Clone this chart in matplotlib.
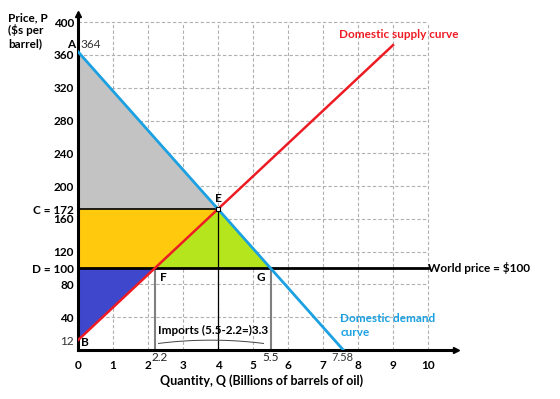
import matplotlib
matplotlib.use("Agg")
import matplotlib.pyplot as plt
import numpy as np
from matplotlib.patches import Polygon

plt.rcParams['font.family'] = ['Lato', 'DejaVu Sans']

# Data
demand_q = [0, 7.58]
demand_p = [364, 0]
supply_q = [0, 4, 9.0]
supply_p = [12, 172, 372]
world_price = 100
q_eq, p_eq = 4, 172
q_supply_world, q_demand_world = 2.2, 5.5
x_ticks = list(range(0, 11))
y_ticks = [40, 80, 120, 160, 200, 240, 280, 320, 360, 400]

fig = plt.figure(figsize=(5.6, 3.99), dpi=100)
ax = fig.add_axes([78/560, 49/399, 378/560, 336/399])
ax.set_xlim(0, 10.8)
ax.set_ylim(0, 410)

# grid
for x in x_ticks[1:]:
    ax.plot([x, x], [0, 400], ls=(0, (3, 2)), color='#b0b0b0', lw=0.8, zorder=0)
for y in y_ticks:
    ax.plot([0, 10], [y, y], ls=(0, (3, 2)), color='#b0b0b0', lw=0.8, zorder=0)

# shaded areas
gray = Polygon([(0, demand_p[0]), (0, p_eq), (q_eq, p_eq)], color='#C3C3C3', lw=0, zorder=1)
yellow = Polygon([(0, p_eq), (q_eq, p_eq), (q_supply_world, world_price), (0, world_price)], color='#FFC90E', lw=0, zorder=1)
green = Polygon([(q_supply_world, world_price), (q_eq, p_eq), (q_demand_world, world_price)], color='#B5E61D', lw=0, zorder=1)
blue = Polygon([(0, world_price), (q_supply_world, world_price), (0, supply_p[0])], color='#3F48CC', lw=0, zorder=1)
for p in (gray, yellow, green, blue):
    ax.add_patch(p)

# verticals
ax.plot([q_supply_world]*2, [0, world_price], color='#808080', lw=1.5, zorder=2)
ax.plot([q_demand_world]*2, [0, world_price], color='#808080', lw=1.5, zorder=2)
ax.plot([q_eq]*2, [0, p_eq], color='black', lw=0.9, zorder=2)
ax.plot([0, q_eq], [p_eq, p_eq], color='black', lw=1.2, zorder=2)

# world price line
ax.plot([0, 10], [world_price, world_price], color='black', lw=2, zorder=3)

# curves
ax.plot(demand_q, demand_p, color='#1BA1E2', lw=2, zorder=4)
ax.plot(supply_q, supply_p, color='#ED1C24', lw=1.8, zorder=4)
ax.plot([q_eq], [p_eq], marker='s', ms=3, mfc='white', mec='black', mew=0.8, zorder=5)

# axes spines
for s in ['top', 'right']:
    ax.spines[s].set_visible(False)
ax.spines['left'].set_linewidth(2.2)
ax.spines['bottom'].set_linewidth(2.2)
ax.plot(1, 0, '>k', transform=ax.get_yaxis_transform(), clip_on=False, ms=4)
ax.plot(0, 1, '^k', transform=ax.get_xaxis_transform(), clip_on=False, ms=4)

ax.tick_params(axis='x', length=0, pad=7)
ax.tick_params(axis='y', length=0, pad=3)
ax.set_xticks(x_ticks)
ax.set_xticklabels([str(v) for v in x_ticks], fontweight='bold', fontsize=8.5)
yt = [12, 40, 80, world_price, 120, 160, p_eq, 200, 240, 280, 320, 360, 400]
ylab = ['12', '40', '80', 'D = 100', '120', '160', 'C = 172', '200', '240', '280', '320', '360', '400']
ax.set_yticks(yt)
ax.set_yticklabels(ylab, fontsize=8.5, fontweight='bold')
for t in ax.get_yticklabels():
    if t.get_text() == '12':
        t.set_fontweight('normal')
        t.set_color('#333333')

# extra labels
ax.text(-0.08, 366, 'A', fontsize=8.5, fontweight='bold', ha='right', va='bottom')
ax.text(0.08, 366, '364', fontsize=8.5, ha='left', va='bottom', color='#333333')
ax.text(0.08, 2, 'B', fontsize=8.5, fontweight='bold', ha='left', va='bottom')
ax.text(q_eq, p_eq + 6, 'E', fontsize=8.5, fontweight='bold', ha='center', va='bottom')
ax.text(q_supply_world + 0.15, world_price - 5, 'F', fontsize=8.5, fontweight='bold', ha='left', va='top')
ax.text(q_demand_world - 0.15, world_price - 5, 'G', fontsize=8.5, fontweight='bold', ha='right', va='top')
ax.text(q_supply_world - 0.1, -3, '2.2', fontsize=8.5, ha='left', va='top', clip_on=False, color='#222222')
ax.text(q_demand_world, -3, '5.5', fontsize=8.5, ha='center', va='top', clip_on=False, color='#222222')
ax.text(7.55, -2, '7.58', fontsize=8, ha='center', va='top', clip_on=False, color='#333333')

ax.text(3.85, 24, 'Imports (5.5-2.2=)3.3', fontsize=8.5, fontweight='bold', ha='center', va='center')
bq = np.linspace(q_supply_world + 0.1, q_demand_world - 0.2, 50)
mid = (bq[0] + bq[-1]) / 2
half = (bq[-1] - bq[0]) / 2
ax.plot(bq, 12 - 4 * ((bq - mid) / half) ** 2, color='#444444', lw=0.7)

ax.text(10.0, world_price, 'World price = $100', fontsize=8.5, fontweight='bold', ha='left', va='center')
ax.text(7.45, 385, 'Domestic supply curve', fontsize=8.5, fontweight='bold', color='#ED1C24', ha='left', va='center')
ax.text(7.5, 38, 'Domestic demand', fontsize=8.5, fontweight='bold', color='#1BA1E2', ha='left', va='center')
ax.text(7.5, 21, 'curve', fontsize=8.5, fontweight='bold', color='#1BA1E2', ha='left', va='center')

fig.text(262/560, 1 - 381/399, 'Quantity, Q (Billions of barrels of oil)', fontsize=9, fontweight='bold', ha='center', va='center')
fig.text(8/560, 1 - 12/399, 'Price, P\n($s per\nbarrel)', fontsize=8.5, fontweight='bold', ha='left', va='top', linespacing=1.15)

fig.savefig('out.png', dpi=100)
